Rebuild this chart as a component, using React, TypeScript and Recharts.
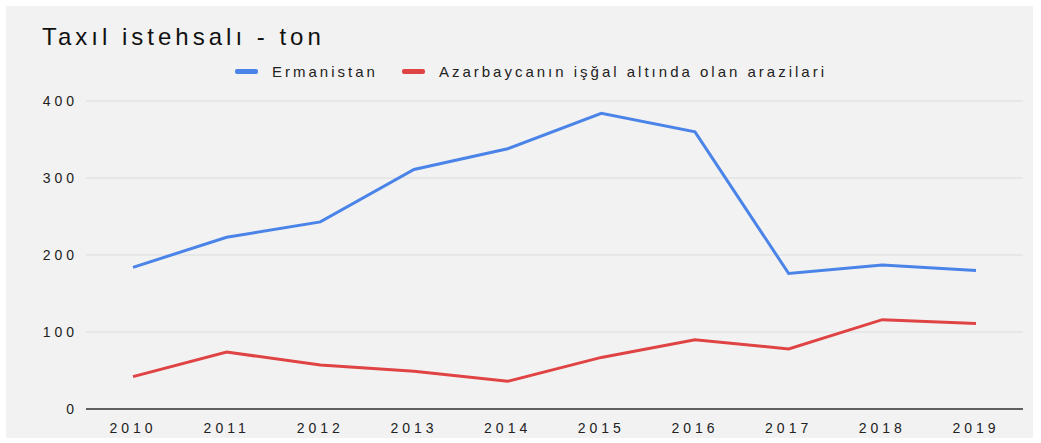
import React from 'react';
import { CartesianGrid, Line, LineChart, XAxis, YAxis } from 'recharts';

const years = ['2010', '2011', '2012', '2013', '2014', '2015', '2016', '2017', '2018', '2019'];
const ermanistan = [184, 223, 243, 311, 338, 384, 360, 176, 187, 180];
const azerbaycan = [42, 74, 57, 49, 36, 67, 90, 78, 116, 111];
const yTicks = [0, 100, 200, 300, 400];

const seriesInfo = [
  { key: 'ermanistan', name: 'Ermanistan', color: '#4a84e8' },
  { key: 'azerbaycan', name: 'Azarbaycanın işğal altında olan arazilari', color: '#e04343' },
];

const data = years.map((year, i) => ({
  year,
  ermanistan: ermanistan[i],
  azerbaycan: azerbaycan[i],
}));

const font = 'Arial, "Liberation Sans", sans-serif';

function ChartLegend() {
  return (
    <div
      style={{
        position: 'absolute',
        left: 229,
        top: 57,
        display: 'flex',
        alignItems: 'center',
        fontFamily: font,
        fontSize: 15,
        color: '#222',
        letterSpacing: 3,
        whiteSpace: 'nowrap',
      }}
    >
      {seriesInfo.map((s, i) => (
        <div key={s.key} style={{ display: 'flex', alignItems: 'center', marginRight: i === 0 ? 24 : 0 }}>
          <span style={{ display: 'inline-block', width: 23, height: 5, borderRadius: 2, background: s.color, marginRight: 14 }} />
          <span>{s.name}</span>
        </div>
      ))}
    </div>
  );
}

export default function App() {
  return (
    <div style={{ position: 'absolute', left: 0, top: 0, width: 1041, height: 443, background: '#fff' }}>
      <div style={{ position: 'absolute', left: 6, top: 6, width: 1027, height: 432, background: '#f2f2f2' }}>
        <div
          style={{
            position: 'absolute',
            left: 36,
            top: 17,
            fontFamily: font,
            fontSize: 24,
            letterSpacing: 4,
            color: '#111',
            whiteSpace: 'nowrap',
          }}
        >
          Taxıl istehsalı - ton
        </div>
        <ChartLegend />
        <LineChart width={1027} height={432} data={data} margin={{ top: 95, right: 10, bottom: 4, left: 0 }}>
          <CartesianGrid vertical={false} stroke="#dcdcdc" />
          <XAxis
            dataKey="year"
            tickLine={false}
            axisLine={{ stroke: '#333', strokeWidth: 1.5 }}
            padding={{ left: 47, right: 47 }}
            tickMargin={8}
            height={25}
            tick={{ fill: '#222', fontSize: 14, fontFamily: font, letterSpacing: 4 }}
            interval={0}
          />
          <YAxis
            domain={[0, 400]}
            ticks={yTicks}
            width={80}
            axisLine={false}
            tickLine={false}
            tickMargin={2}
            tick={{ fill: '#222', fontSize: 14, fontFamily: font, letterSpacing: 4 }}
          />
          {seriesInfo.map((s) => (
            <Line
              key={s.key}
              type="linear"
              dataKey={s.key}
              name={s.name}
              stroke={s.color}
              strokeWidth={3}
              dot={false}
              isAnimationActive={false}
            />
          ))}
        </LineChart>
      </div>
    </div>
  );
}
